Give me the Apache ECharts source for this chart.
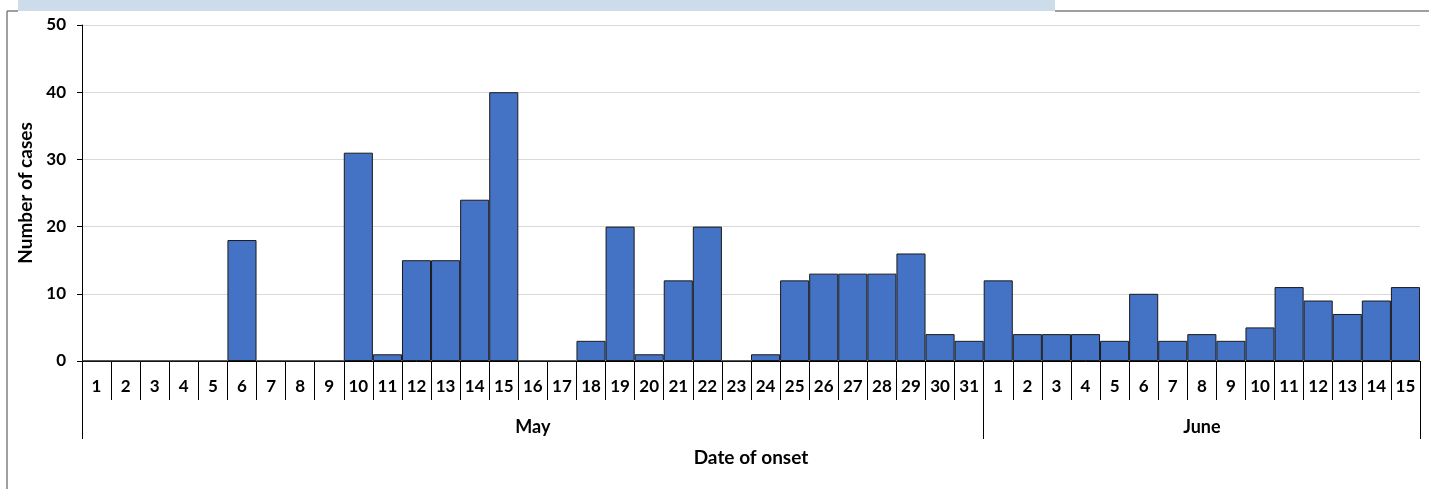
<!DOCTYPE html>
<html>
<head>
<meta charset="utf-8">
<title>Date of onset</title>
<script src="https://cdn.jsdelivr.net/npm/echarts@6/dist/echarts.min.js"></script>
<style>
  html, body { margin: 0; padding: 0; background: #fff; }
  #chart { width: 1429px; height: 489px; }
</style>
</head>
<body>
<div id="chart"></div>
<script>
// days of onset: May 1-31, June 1-15
const mayDays = ['1','2','3','4','5','6','7','8','9','10','11','12','13','14','15','16','17','18','19','20','21','22','23','24','25','26','27','28','29','30','31']
const juneDays = ['1','2','3','4','5','6','7','8','9','10','11','12','13','14','15']
const days = mayDays.concat(juneDays)

const mayCases = [0, 0, 0, 0, 0, 18, 0, 0, 0, 31, 1, 15, 15, 24, 40, 0, 0, 3, 20, 1, 12, 20, 0, 1, 12, 13, 13, 13, 16, 4, 3]
const juneCases = [12, 4, 4, 4, 3, 10, 3, 4, 3, 5, 11, 9, 7, 9, 11]
const cases = mayCases.concat(juneCases)

const months = ['May', 'June']
const yTicks = [0, 10, 20, 30, 40, 50]

// one label per month, placed on the middle day; ticks at month boundaries
const monthStart = [0, mayDays.length]
const monthMid = [Math.floor(mayDays.length / 2), mayDays.length + Math.floor(juneDays.length / 2)]
const monthLabels = days.map((d, i) => {
  const k = monthMid.indexOf(i)
  return k >= 0 ? months[k] : ''
})

const font = 'Lato, "Open Sans", sans-serif'

const chart = echarts.init(document.getElementById('chart'))

const option = {
  animation: false,
  textStyle: { fontFamily: font },
  grid: { left: 82, right: 9, top: 25, bottom: 128 },
  xAxis: [
    {
      type: 'category',
      data: days,
      position: 'bottom',
      axisLine: { lineStyle: { color: '#000', width: 1 } },
      axisTick: { show: true, interval: 0, length: 39, lineStyle: { color: '#000' } },
      axisLabel: { interval: 0, margin: 17, color: '#000', fontWeight: 'bold', fontSize: 17, fontFamily: font }
    },
    {
      type: 'category',
      data: monthLabels,
      position: 'bottom',
      axisLine: { show: false },
      axisTick: {
        show: true,
        interval: (i) => monthStart.indexOf(i) >= 0,
        length: 78,
        lineStyle: { color: '#000' }
      },
      axisLabel: {
        interval: (i) => monthMid.indexOf(i) >= 0,
        margin: 57,
        color: '#000',
        fontWeight: 'bold',
        fontSize: 18,
        fontFamily: font
      },
      name: 'Date of onset',
      nameLocation: 'middle',
      nameGap: 87,
      nameTextStyle: { color: '#000', fontWeight: 'bold', fontSize: 19, fontFamily: font }
    }
  ],
  yAxis: {
    type: 'value',
    min: yTicks[0],
    max: yTicks[yTicks.length - 1],
    interval: 10,
    name: 'Number of cases',
    nameLocation: 'middle',
    nameGap: 45,
    nameTextStyle: { color: '#000', fontWeight: 'bold', fontSize: 19, fontFamily: font },
    axisLine: { show: true, lineStyle: { color: '#000' } },
    axisTick: { show: true, length: 5, lineStyle: { color: '#000' } },
    axisLabel: { margin: 16, color: '#000', fontWeight: 'bold', fontSize: 17, fontFamily: font },
    splitLine: { lineStyle: { color: '#d9d9d9', width: 1 } }
  },
  series: [
    {
      type: 'bar',
      data: cases,
      xAxisIndex: 0,
      barCategoryGap: 0,
      itemStyle: { color: '#4472C4', borderColor: '#1a1a1a', borderWidth: 1 }
    }
  ],
  graphic: [
    // pieces of the surrounding frame from the source document
    { type: 'rect', shape: { x: 18, y: 0, width: 1037, height: 11 }, style: { fill: '#ccdcea' }, silent: true },
    { type: 'line', shape: { x1: 7, y1: 11, x2: 18, y2: 11 }, style: { stroke: '#7f7f7f', lineWidth: 1.5 }, silent: true },
    { type: 'line', shape: { x1: 1055, y1: 11, x2: 1429, y2: 11 }, style: { stroke: '#7f7f7f', lineWidth: 1.5 }, silent: true },
    { type: 'line', shape: { x1: 7, y1: 11, x2: 7, y2: 489 }, style: { stroke: '#7f7f7f', lineWidth: 1.5 }, silent: true }
  ]
}

chart.setOption(option)

window.addEventListener('resize', () => {
  chart.resize()
})
</script>
</body>
</html>
